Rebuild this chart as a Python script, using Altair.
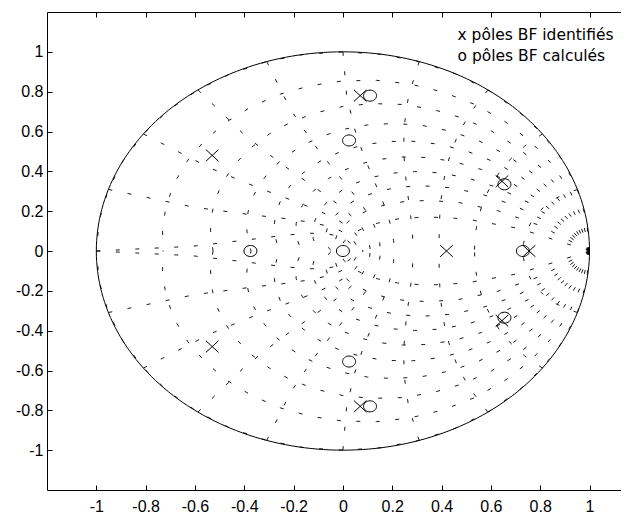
import altair as alt
import numpy as np
import pandas as pd

# ---- grid parameters (MATLAB zgrid defaults) ----
zeta = [0.0, 0.1, 0.2, 0.3, 0.4, 0.5, 0.6, 0.7, 0.8, 0.9]
wn_over_pi = [0.1, 0.2, 0.3, 0.4, 0.5, 0.6, 0.7, 0.8, 0.9, 1.0]

# ---- poles ----
ident_re = [-0.53, -0.53, 0.07, 0.07, 0.42, 0.645, 0.645, 0.755]
ident_im = [0.48, -0.48, 0.78, -0.78, 0.0, 0.35, -0.35, 0.0]
calc_re = [0.11, 0.11, 0.025, 0.025, 0.0, -0.375, 0.73, 0.655, 0.655]
calc_im = [0.78, -0.78, 0.555, -0.555, 0.0, 0.0, 0.0, 0.335, -0.335]

legend_lines = ["x pôles BF identifiés", "o pôles BF calculés"]
tick_values = [-1, -0.8, -0.6, -0.4, -0.2, 0, 0.2, 0.4, 0.6, 0.8, 1]

# ---- build grid curves ----
rows = []
t = np.linspace(0, np.pi, 21)
for z in zeta:
    m = np.tan(np.arcsin(z))
    zz = np.exp(t * (-m + 1j))
    for sgn, tag in ((1, "u"), (-1, "l")):
        for k, v in enumerate(zz):
            rows.append({"id": f"z{z}{tag}", "k": k, "x": v.real, "y": sgn * v.imag})
th = np.linspace(np.pi / 2, np.pi, 11)
for w in wn_over_pi:
    zz = np.exp(w * np.pi * np.exp(1j * th))
    for sgn, tag in ((1, "u"), (-1, "l")):
        for k, v in enumerate(zz):
            rows.append({"id": f"w{w}{tag}", "k": k, "x": v.real, "y": sgn * v.imag})
grid_df = pd.DataFrame(rows)

phi = np.linspace(0, 2 * np.pi, 241)
circle_df = pd.DataFrame({"k": range(len(phi)), "x": np.cos(phi), "y": np.sin(phi)})

ident_df = pd.DataFrame({"re": ident_re, "im": ident_im})
calc_df = pd.DataFrame({"re": calc_re, "im": calc_im})

XS = alt.Scale(domain=[-1.2, 1.1277], nice=False, zero=False)
YS = alt.Scale(domain=[-1.2, 1.2], nice=False, zero=False)
lab = "'' + round(datum.value*10)/10"
FONT = "Liberation Sans"
LEGFONT = "DejaVu Sans"

def ax(orient, **kw):
    base = dict(orient=orient, values=tick_values, grid=False, title=None,
                domainColor="black", tickColor="black", labelColor="black",
                labelFont=FONT, labelFontSize=16, domainWidth=1, tickWidth=1)
    base.update(kw)
    return alt.Axis(**base)

grid = alt.Chart(grid_df).mark_line(
    strokeDash=[4, 15.5], strokeWidth=0.9, color="black"
).encode(
    x=alt.X("x:Q", scale=XS, axis=ax("bottom", ticks=False, tickSize=0, domain=True,
                                      labelExpr=lab, labelPadding=21.5,
                                      labelBaseline="alphabetic", labelFontSize=16)),
    y=alt.Y("y:Q", scale=YS, axis=ax("left", ticks=False, tickSize=0, domain=True,
                                      labelExpr=lab, labelPadding=4)),
    detail="id:N",
    order="k:Q",
)

circle = alt.Chart(circle_df).mark_line(color="black", strokeWidth=1).encode(
    x=alt.X("x:Q", scale=XS, axis=ax("bottom", offset=-5, domain=False, labels=False, ticks=True, tickSize=5)),
    y=alt.Y("y:Q", scale=YS, axis=ax("left", offset=-5, domain=False, labels=False, ticks=True, tickSize=5)),
    order="k:Q",
)

xpath = "M-1,-0.92L1,0.92M-1,0.92L1,-0.92"
opath = "M-1,0A1,0.85,0,1,0,1,0A1,0.85,0,1,0,-1,0Z"

ident = alt.Chart(ident_df).mark_point(
    shape=xpath, size=160, filled=False, color="black", strokeWidth=1, opacity=1
).encode(
    x=alt.X("re:Q", scale=XS, axis=ax("top", domain=True, ticks=False, labels=False)),
    y=alt.Y("im:Q", scale=YS, axis=None),
)

calc = alt.Chart(calc_df).mark_point(
    shape=opath, size=169, filled=False, color="black", strokeWidth=1, opacity=1
).encode(
    x=alt.X("re:Q", scale=XS, axis=ax("top", offset=-5, domain=False, labels=False, ticks=True, tickSize=5)),
    y=alt.Y("im:Q", scale=YS, axis=None),
)

leg1 = alt.Chart(pd.DataFrame({"t": [legend_lines[0]]})).mark_text(
    align="left", baseline="alphabetic", font=LEGFONT, fontSize=15.5, color="black"
).encode(x=alt.value(410.5), y=alt.value(28), text="t:N")
leg2 = alt.Chart(pd.DataFrame({"t": [legend_lines[1]]})).mark_text(
    align="left", baseline="alphabetic", font=LEGFONT, fontSize=15.5, color="black"
).encode(x=alt.value(410.5), y=alt.value(49), text="t:N")

chart = alt.layer(grid, circle, ident, calc, leg1, leg2).resolve_axis(
    x="independent", y="independent"
).properties(
    width=574, height=478,
    autosize=alt.AutoSizeParams(type="none"),
    padding={"left": 39, "top": 4, "right": 0, "bottom": 24},
).configure_view(stroke=None)

chart.save("out.html", embed_options={"renderer": "svg", "actions": False})
